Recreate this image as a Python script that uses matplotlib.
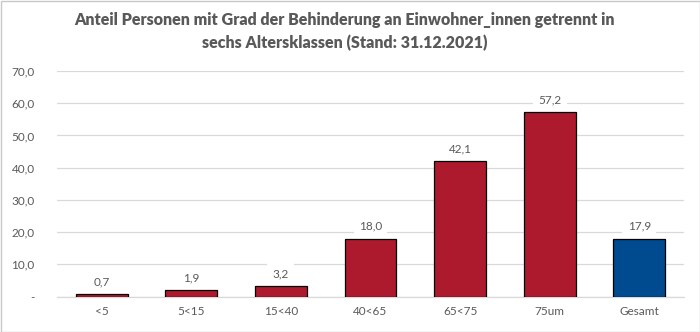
import matplotlib
matplotlib.use("Agg")
import matplotlib.pyplot as plt
from matplotlib.patches import Rectangle
from matplotlib.ticker import FixedLocator, FuncFormatter

categories = ["<5", "5<15", "15<40", "40<65", "65<75", "75um", "Gesamt"]
values = [0.7, 1.9, 3.2, 18.0, 42.1, 57.2, 17.9]
colors = ["#AD1A2E"] * 6 + ["#004A8F"]
y_ticks = [0, 10, 20, 30, 40, 50, 60, 70]
title = "Anteil Personen mit Grad der Behinderung an Einwohner_innen getrennt in\nsechs Altersklassen (Stand: 31.12.2021)"

plt.rcParams["font.family"] = ["Lato", "DejaVu Sans"]
text_color = "#595959"

fig = plt.figure(figsize=(7.0, 3.32), dpi=100)
ax = fig.add_axes([57 / 700, 1 - 296.5 / 332, 627 / 700, 225.5 / 332])

x = range(len(categories))
bars = ax.bar(x, values, width=0.58, color=colors, edgecolor="black", linewidth=0.9, zorder=3)

ax.set_xlim(-0.5, len(categories) - 0.5)
ax.set_ylim(0, 70)
ax.yaxis.set_major_locator(FixedLocator(y_ticks))
ax.yaxis.set_major_formatter(FuncFormatter(lambda v, p: "-" if v == 0 else f"{v:.1f}".replace(".", ",")))
ax.set_xticks(list(x))
ax.set_xticklabels(categories)
ax.tick_params(axis="both", length=0, colors=text_color, labelsize=8.5)
ax.tick_params(axis="y", pad=16)
ax.tick_params(axis="x", pad=7)
ax.grid(axis="y", color="#D9D9D9", linewidth=0.9, zorder=0)
ax.set_axisbelow(True)
for s in ["top", "right", "left"]:
    ax.spines[s].set_visible(False)
ax.spines["bottom"].set_color("#D9D9D9")
ax.spines["bottom"].set_linewidth(0.9)

for xi, v in zip(x, values):
    ax.annotate(f"{v:.1f}".replace(".", ","), (xi, v), xytext=(0, 5), textcoords="offset points",
                ha="center", va="bottom", fontsize=8.5, color=text_color, zorder=4,
                bbox=dict(boxstyle="square,pad=0.45", facecolor="white", edgecolor="none"))

fig.text(0.492, 0.905, title, ha="center", va="center", fontsize=11.5, fontweight="heavy",
         color=text_color, linespacing=1.5)

fig.patches.append(Rectangle((0.5 / 700, 0.5 / 332), 699 / 700, 331 / 332, transform=fig.transFigure,
                             fill=False, edgecolor="#C8C8C8", linewidth=1.0))

fig.savefig("out.png", dpi=100, facecolor="white")
